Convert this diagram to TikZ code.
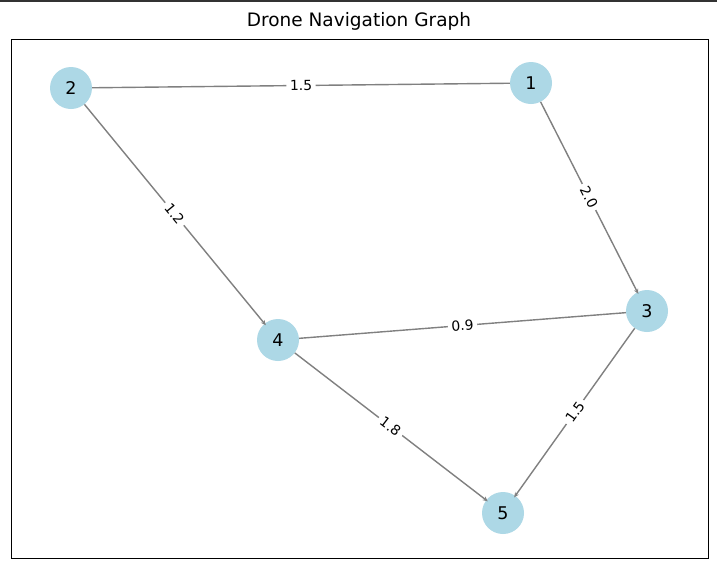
\documentclass[tikz,border=0pt]{standalone}
\usepackage{fontspec}
\setmainfont{DejaVu Sans}
\usetikzlibrary{arrows.meta}
\definecolor{nodeblue}{HTML}{ADD8E6}
\definecolor{edgegray}{HTML}{808080}
\definecolor{topband}{HTML}{333333}
\tikzset{
  vertex/.style={circle, fill=nodeblue, draw=none, minimum size=42pt, inner sep=0pt, font=\fontsize{17.5}{20}\selectfont},
  edge/.style={draw=edgegray, line width=1.4pt},
  diredge/.style={edge, -{Stealth[length=5pt,width=4.5pt]}, shorten >=-2pt},
  wlabel/.style={sloped, midway, fill=white, inner sep=3.5pt, font=\fontsize{13.9}{16}\selectfont, text=black},
  titletext/.style={font=\fontsize{18.5}{22}\selectfont}
}
\begin{document}
\begin{tikzpicture}[x=1pt,y=-1pt]
\useasboundingbox (0,0) rectangle (717,568);
\fill[white] (0,0) rectangle (717,568);
\fill[topband] (0,0) rectangle (717,2);
\draw[black, line width=1pt] (11,39) rectangle (708,558);
\node[titletext] (title) at (359,21) {Drone Navigation Graph};
% nodes
\node[vertex] (n1) at (531,83) {1};
\node[vertex] (n2) at (71,88) {2};
\node[vertex] (n3) at (647,311) {3};
\node[vertex] (n4) at (278,340) {4};
\node[vertex] (n5) at (503,513) {5};
% edges
\path[edge] (n2) -- node[wlabel] {1.5} (n1);
\path[diredge] (n1) -- node[wlabel] {2.0} (n3);
\path[diredge] (n2) -- node[wlabel] {1.2} (n4);
\path[edge] (n4) -- node[wlabel] {0.9} (n3);
\path[diredge] (n4) -- node[wlabel] {1.8} (n5);
\path[diredge] (n3) -- node[wlabel] {1.5} (n5);
\end{tikzpicture}
\end{document}
